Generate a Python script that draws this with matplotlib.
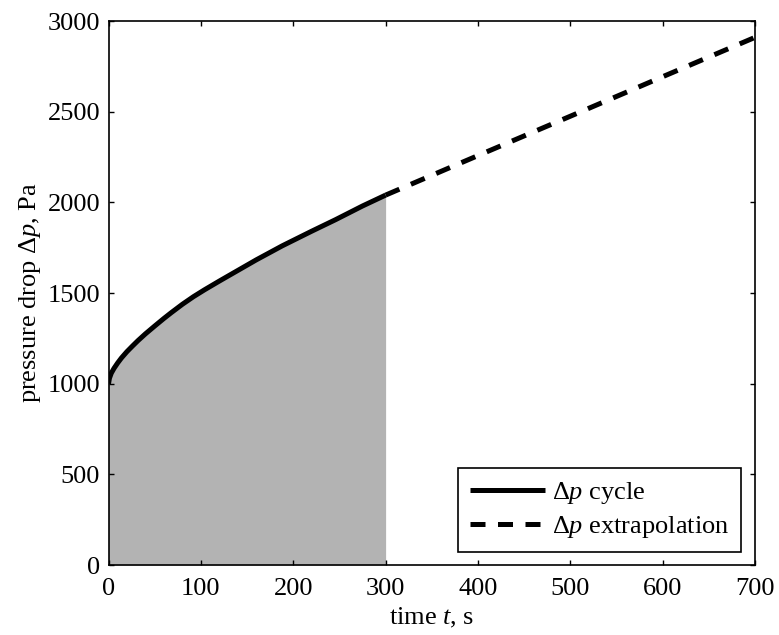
import numpy as np
import matplotlib
matplotlib.use('Agg')
import matplotlib.pyplot as plt

plt.rcParams['font.family'] = 'Liberation Serif'
plt.rcParams['mathtext.fontset'] = 'custom'
plt.rcParams['mathtext.rm'] = 'Liberation Serif'
plt.rcParams['mathtext.it'] = 'Liberation Serif:italic'

# dados do ciclo
t_ciclo = [0, 1, 3, 6, 10, 14, 20, 26, 32, 40, 50, 60, 68, 80, 92, 104, 120, 134,
           160, 188, 220, 246, 275, 300]
dp_ciclo = [1000, 1030, 1058, 1085, 1115, 1142, 1177, 1208, 1238, 1275, 1318, 1360,
            1392, 1438, 1480, 1518, 1566, 1607, 1683, 1760, 1841, 1905, 1980, 2040]

# extrapolacao
t_extrap = [300, 400, 500, 600, 700]
dp_extrap = [2040, 2258, 2475, 2693, 2910]

fig = plt.figure(figsize=(7.79, 6.35), dpi=100)
ax = fig.add_axes([0.1393, 0.1102, 0.830, 0.8567])

ax.fill_between(t_ciclo, dp_ciclo, 0, color='#b3b3b3', linewidth=0)
ax.plot(t_ciclo, dp_ciclo, color='black', linewidth=3.6, label=r'$\Delta p$ cycle',
        solid_capstyle='butt')
ax.plot(t_extrap, dp_extrap, color='black', linewidth=3.6, linestyle=(0, (3.0, 2.5)),
        label=r'$\Delta p$ extrapolation')

ax.set_xlim(0, 700)
ax.set_ylim(0, 3000)
ax.set_xticks(np.arange(0, 701, 100))
ax.set_yticks(np.arange(0, 3001, 500))
ax.tick_params(direction='in', top=True, right=True, labelsize=19, length=3.6, width=1)
ax.tick_params(axis='y', pad=6)
ax.tick_params(axis='x', pad=9.5)
for s in ax.spines.values():
    s.set_linewidth(1.2)

ax.set_xlabel(r'time $t$, s', fontsize=19, labelpad=4)
ax.set_ylabel(r'pressure drop $\Delta p$, Pa', fontsize=19, labelpad=3)

leg = ax.legend(loc='lower right', bbox_to_anchor=(0.978, 0.024), borderaxespad=0,
                fontsize=19, fancybox=False, framealpha=1, edgecolor='black',
                handlelength=2.84, handletextpad=0.25, borderpad=0.45, labelspacing=0.3)
leg.get_frame().set_linewidth(1.2)

plt.savefig('out.png', dpi=100)
